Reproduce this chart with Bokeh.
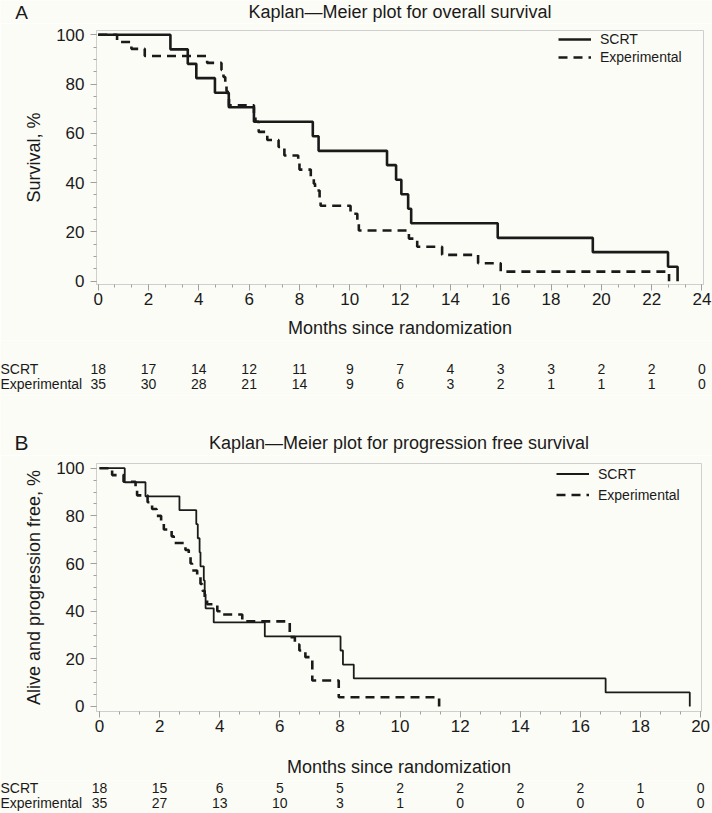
from bokeh.plotting import figure
from bokeh.models import (Range1d, Legend, LegendItem, SingleIntervalTicker,
                          ColumnDataSource)
from bokeh.layouts import column
from bokeh.embed import file_html
from bokeh.resources import INLINE
from bokeh.core.properties import value

# ---------------- data ----------------
# Panel A: overall survival (months, survival %)
os_scrt_t = [0, 2.87, 3.56, 3.9, 4.64, 5.19, 6.19, 8.53, 8.76, 11.48, 11.84, 12.05, 12.32, 12.44,
             15.88, 19.66, 22.65, 23.03]
os_scrt_s = [100, 94.1, 88.2, 82.4, 76.5, 70.6, 64.7, 58.8, 52.9, 47.1, 41.2, 35.3, 29.4, 23.5,
             17.6, 11.8, 5.9, 0]
os_exp_t = [0, 0.75, 1.32, 1.85, 4.33, 4.9, 4.98, 5.05, 5.1, 5.15, 5.2, 6.19, 6.25, 6.38, 6.72,
            7.17, 7.4, 7.95, 8.0, 8.45, 8.57, 8.62, 8.8, 8.84, 10.03, 10.3, 10.36, 12.35, 12.68,
            13.67, 15.1, 16.0, 22.69]
os_exp_s = [100, 97.1, 94.3, 91.4, 88.6, 85.7, 82.9, 80.0, 77.1, 74.3, 71.4, 67.6, 64.7, 60.6,
            57.3, 54.5, 51.0, 48.2, 45.3, 42.5, 39.6, 36.8, 33.9, 30.6, 27.4, 24.0, 20.6, 17.3,
            14.0, 10.7, 7.3, 3.9, 0]

# Panel B: progression free survival
pfs_scrt_t = [0, 0.84, 1.53, 2.66, 3.22, 3.27, 3.33, 3.36, 3.47, 3.50, 3.53, 3.80, 5.50, 8.02,
              8.10, 8.46, 16.84, 19.64]
pfs_scrt_s = [100, 94.1, 88.2, 82.4, 76.5, 70.6, 64.7, 58.8, 52.9, 47.1, 41.2, 35.3, 29.4, 23.5,
              17.6, 11.8, 5.9, 0]
pfs_exp_t = [0, 0.42, 0.80, 1.20, 1.25, 1.60, 1.75, 1.90, 2.05, 2.14, 2.40, 2.47, 2.86, 2.97,
             3.03, 3.08, 3.25, 3.36, 3.42, 3.50, 3.58, 3.92, 4.08, 4.75, 6.33, 6.50, 6.65, 6.85,
             7.08, 7.96, 11.3]
pfs_exp_s = [100, 97.1, 94.3, 91.4, 88.6, 85.7, 82.9, 80.0, 77.1, 74.3, 71.4, 68.6, 65.7, 62.9,
             60.0, 57.1, 54.3, 51.4, 48.6, 45.7, 42.9, 40.0, 38.6, 35.7, 29.1, 26.0, 23.5, 20.7,
             10.9, 3.9, 0]

# Numbers at risk
risk_a_months = [0, 2, 4, 6, 8, 10, 12, 14, 16, 18, 20, 22, 24]
risk_a_scrt = [18, 17, 14, 12, 11, 9, 7, 4, 3, 3, 2, 2, 0]
risk_a_exp = [35, 30, 28, 21, 14, 9, 6, 3, 2, 1, 1, 1, 0]
risk_b_months = [0, 2, 4, 6, 8, 10, 12, 14, 16, 18, 20]
risk_b_scrt = [18, 15, 6, 5, 5, 2, 2, 2, 2, 1, 0]
risk_b_exp = [35, 27, 13, 10, 3, 1, 0, 0, 0, 0, 0]

groups = ["SCRT", "Experimental"]
title_a = "Kaplan\u2014Meier plot for overall survival"
title_b = "Kaplan\u2014Meier plot for progression free survival"
ylabel_a = "Survival, %"
ylabel_b = "Alive and progression free, %"
xlabel = "Months since randomization"

# ---------------- style ----------------
FONT = "Liberation Sans"
BG = "#fcfcf6"
INK = "#1a1a1a"
FRAME = "#cfcfcf"
TICK = "#a0a0a0"
W = 712
FL = 96  # frame left (px)


def bare(p):
    p.grid.visible = False
    p.outline_line_color = None
    p.background_fill_color = BG
    p.border_fill_color = BG


def header_figure(height, letter, letter_size, letter_x, letter_y, title, title_x, title_y):
    h = figure(width=W, height=height, x_range=Range1d(0, W), y_range=Range1d(height, 0),
               output_backend="svg", toolbar_location=None, frame_align=False,
               x_axis_location=None, y_axis_location=None, min_border=0)
    bare(h)
    h.text(x=[letter_x], y=[letter_y], text=[letter], text_align="center",
           text_baseline="middle", text_font=value(FONT), text_font_size=letter_size,
           text_color=INK)
    h.text(x=[title_x], y=[title_y], text=[title], text_align="center",
           text_baseline="middle", text_font=value(FONT), text_font_size="18px",
           text_color=INK)
    return h


def km_figure(height, xr, yr, border_top, border_bottom, frame_right,
              t1, s1, t2, s2, w1, w2, ylabel, row_h, xstd):
    p = figure(width=W, height=height, x_range=Range1d(*xr), y_range=Range1d(*yr),
               output_backend="svg", toolbar_location=None, frame_align=False,
               min_border_left=FL, min_border_right=W - frame_right,
               min_border_top=border_top, min_border_bottom=border_bottom)
    p.xgrid.visible = False
    p.ygrid.visible = False
    p.outline_line_color = FRAME
    p.background_fill_color = BG
    p.border_fill_color = BG
    p.xaxis.ticker = SingleIntervalTicker(interval=2, num_minor_ticks=3)
    p.yaxis.ticker = SingleIntervalTicker(interval=20, num_minor_ticks=4)
    for ax in (p.xaxis[0], p.yaxis[0]):
        ax.axis_line_color = FRAME
        ax.major_tick_line_color = TICK
        ax.minor_tick_line_color = TICK
        ax.major_tick_in = 0
        ax.major_tick_out = 6
        ax.minor_tick_in = 0
        ax.minor_tick_out = 3
        ax.major_label_text_font = FONT
        ax.major_label_text_font_size = "17px"
        ax.major_label_text_color = INK
        ax.axis_label_text_font = FONT
        ax.axis_label_text_font_size = "18px"
        ax.axis_label_text_font_style = "normal"
        ax.axis_label_text_color = INK
    p.xaxis.major_label_standoff = 2
    p.xaxis.axis_label_standoff = xstd
    p.yaxis.major_label_standoff = 6
    p.yaxis.axis_label_standoff = 9
    p.xaxis.axis_label = xlabel
    p.yaxis.axis_label = ylabel
    r1 = p.step(x="t", y="s", source=ColumnDataSource(dict(t=t1, s=s1)), mode="after",
                line_color=INK, line_width=w1)
    r2 = p.step(x="t", y="s", source=ColumnDataSource(dict(t=t2, s=s2)), mode="after",
                line_color=INK, line_width=w2, line_dash="9 6")
    leg = Legend(items=[LegendItem(label=groups[0], renderers=[r1]),
                        LegendItem(label=groups[1], renderers=[r2])],
                 location="top_right", margin=0, padding=0, spacing=0,
                 border_line_alpha=0, background_fill_alpha=0,
                 label_height=row_h, glyph_height=row_h, glyph_width=33,
                 label_standoff=9, label_width=103,
                 label_text_font=FONT, label_text_font_size="14px",
                 label_text_color=INK)
    p.add_layout(leg)
    return p


def risk_figure(height, xr, frame_right, yr, months, scrt, exp):
    k = (frame_right - FL) / (xr[1] - xr[0])
    x0 = xr[0] - FL / k
    x1 = xr[1] + (W - frame_right) / k
    r = figure(width=W, height=height, x_range=Range1d(x0, x1), y_range=Range1d(*yr),
               output_backend="svg", toolbar_location=None, frame_align=False,
               x_axis_location=None, y_axis_location=None, min_border=0)
    bare(r)
    common = dict(text_font=value(FONT), text_font_size="14px", text_color=INK,
                  text_baseline="middle")
    r.text(x=months, y=[1] * len(months), text=[str(v) for v in scrt],
           text_align="center", **common)
    r.text(x=months, y=[0] * len(months), text=[str(v) for v in exp],
           text_align="center", **common)
    r.text(x=[x0, x0], y=[1, 0], text=groups, text_align="left", **common)
    return r


# Panel A  (page rows: header 0-23, plot 23-340, risk 340-395)
xr_a = (-0.068, 24.06)
yr_a = (-1.33, 101.74)
ha = header_figure(23, "A", "19px", 21, 12, title_a, (FL + 703) / 2, 11)
pa = km_figure(317, xr_a, yr_a, 7, 55, 703, os_scrt_t, os_scrt_s, os_exp_t, os_exp_s,
               2.6, 2.6, ylabel_a, 18, 10)
ra = risk_figure(55, xr_a, 703, (-(55 - 43) / 15, 1 + 28 / 15), risk_a_months,
                 risk_a_scrt, risk_a_exp)

# Panel B  (page rows: header 395-455, plot 455-780, risk 780-813)
xr_b = (-0.1, 20.03)
yr_b = (-2.1, 101.97)
hb = header_figure(60, "B", "21px", 21, 47, title_b, (FL + 701) / 2, 47)
pb = km_figure(325, xr_b, yr_b, 8, 69, 701, pfs_scrt_t, pfs_scrt_s, pfs_exp_t, pfs_exp_s,
               1.8, 2.6, ylabel_b, 21, 22)
rb = risk_figure(33, xr_b, 701, (-(33 - 22) / 15, 1 + 7 / 15), risk_b_months,
                 risk_b_scrt, risk_b_exp)

layout = column(ha, pa, ra, hb, pb, rb, spacing=0)
open("out.html", "w").write(file_html(layout, INLINE))
